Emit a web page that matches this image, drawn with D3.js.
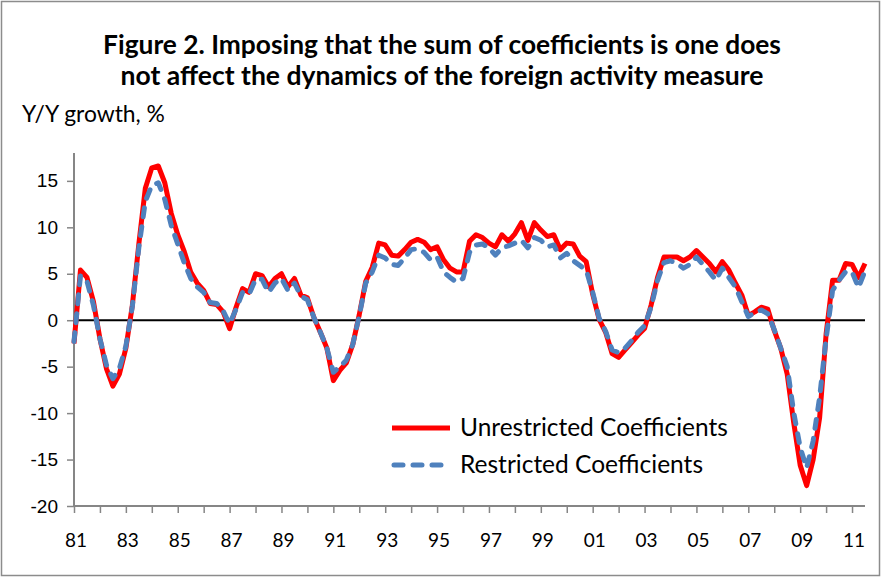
<!DOCTYPE html>
<html>
<head>
<meta charset="utf-8">
<script src="https://cdn.jsdelivr.net/npm/d3@7"></script>
<style>
  body { margin: 0; background: #fff; }
  svg { display: block; font-family: Lato, "Open Sans", sans-serif; }
</style>
</head>
<body>
<div id="chart"></div>
<script>
// quarterly data, 1981Q1 .. 2011Q3, Y/Y growth in %
var startYear = 1981;
var unrestricted = [
  -2.5, 5.4, 4.6, 2.0,   -2.0, -5.2, -7.1, -5.8,   -3.0, 1.6, 8.2, 14.2,
  16.4, 16.6, 14.8, 11.5,   9.2, 7.4, 5.2, 4.0,   3.2, 1.8, 1.7, 0.9,
  -0.9, 1.4, 3.4, 3.0,   5.0, 4.8, 3.6, 4.5,   5.0, 3.6, 4.5, 2.7,
  2.4, 0.3, -1.3, -3.0,   -6.5, -5.4, -4.6, -2.6,   0.6, 4.2, 5.7, 8.3,
  8.1, 7.0, 6.9, 7.6,   8.4, 8.7, 8.4, 7.6,   7.9, 6.5, 5.6, 5.2,
  5.2, 8.5, 9.2, 8.9,   8.3, 7.9, 9.2, 8.5,   9.3, 10.5, 8.6, 10.5,
  9.7, 9.0, 9.2, 7.6,   8.3, 8.2, 6.9, 6.3,   2.8, 0.1, -1.3, -3.6,
  -4.0, -3.2, -2.4, -1.6,   -0.9, 1.6, 4.6, 6.8,   6.8, 6.8, 6.4, 6.8,
  7.5, 6.8, 6.1, 5.2,   6.3, 5.4, 4.0, 2.7,   0.5, 0.9, 1.4, 1.2,
  -1.1, -3.0, -5.8, -11.0,   -15.6, -17.8, -15.0, -10.5,   -1.5, 4.3, 4.3, 6.1,
  6.0, 4.6, 6.1
];
var restricted = [
  -2.3, 4.8, 4.2, 1.6,   -2.0, -4.8, -6.3, -5.2,   -2.8, 1.5, 7.8, 12.8,
  14.5, 14.8, 13.0, 10.2,   8.2, 6.2, 4.5, 3.6,   3.0, 1.9, 1.8, 1.0,
  -0.4, 1.2, 3.0, 2.8,   4.4, 4.4, 3.0, 4.0,   4.5, 3.2, 4.0, 2.6,
  2.2, 0.3, -1.3, -3.0,   -5.6, -5.0, -4.3, -2.6,   0.5, 4.0, 5.2, 7.0,
  6.7, 6.0, 5.9, 6.7,   7.6, 7.7, 7.3, 6.5,   6.8, 5.2, 4.6, 4.1,
  4.5, 7.3, 8.1, 8.2,   7.8, 7.0, 7.8, 8.0,   8.3, 8.6, 7.8, 8.9,
  8.6, 7.9, 8.1, 6.7,   7.2, 6.4, 5.9, 5.4,   3.0, 0.2, -1.2, -3.2,
  -3.5, -3.0, -2.2, -1.3,   -0.6, 1.4, 4.3, 6.2,   6.4, 6.1, 5.6, 6.0,
  6.8, 6.0, 5.2, 4.3,   5.6, 4.6, 3.6, 2.0,   0.4, 0.8, 1.1, 0.7,
  -1.0, -3.0, -5.0, -9.9,   -13.7, -15.9, -13.0, -8.3,   -2.0, 3.2, 4.3, 5.2,
  5.2, 3.5, 5.3
];
var yTicks = [-20, -15, -10, -5, 0, 5, 10, 15];
var xLabelYears = d3.range(1981, 2012, 2);
var seriesNames = ["Unrestricted Coefficients", "Restricted Coefficients"];

var W = 881, H = 577;
var margin = {top: 153, right: 16, bottom: 71, left: 74};
var width = W - margin.left - margin.right,
    height = H - margin.top - margin.bottom;

var svg = d3.select("#chart").append("svg")
    .attr("width", W)
    .attr("height", H);

// chart border
svg.append("rect")
    .attr("x", 1.5).attr("y", 1.5)
    .attr("width", W - 3).attr("height", H - 3)
    .attr("fill", "#fff")
    .attr("stroke", "#8c8c8c")
    .attr("stroke-width", 1.5);

// fit a text element to a target width
function fit(sel, target) {
  var fs = parseFloat(sel.attr("font-size"));
  var w = sel.node().getComputedTextLength();
  sel.attr("font-size", (fs * target / w).toFixed(2));
}

// title
fit(svg.append("text")
    .attr("x", 442).attr("y", 54)
    .attr("text-anchor", "middle")
    .attr("font-size", 22).attr("font-weight", "bold")
    .attr("fill", "#000")
    .text("Figure 2. Imposing that the sum of coefficients is one does"), 678);
fit(svg.append("text")
    .attr("x", 442).attr("y", 85)
    .attr("text-anchor", "middle")
    .attr("font-size", 22).attr("font-weight", "bold")
    .attr("fill", "#000")
    .text("not affect the dynamics of the foreign activity measure"), 643);

fit(svg.append("text")
    .attr("x", 22).attr("y", 122)
    .attr("font-size", 19)
    .text("Y/Y growth, %"), 143);

var g = svg.append("g")
    .attr("transform", "translate(" + margin.left + "," + margin.top + ")");

var x = d3.scaleLinear().domain([1981, 2011.5]).range([0, width]);
var y = d3.scaleLinear().domain([-20, 18]).range([height, 0]);

var data = unrestricted.map(function(d, i) {
  return {t: startYear + i / 4, u: d, r: restricted[i]};
});

// axes
var yAxis = g.append("g")
    .attr("class", "y axis")
    .call(d3.axisLeft(y).tickValues(yTicks).tickSize(7).tickPadding(9).tickFormat(d3.format("d")));
yAxis.select(".domain").attr("stroke", "#868686").attr("stroke-width", 2)
    .attr("d", "M0," + height + "V0");
yAxis.selectAll(".tick line").attr("stroke", "#868686").attr("stroke-width", 1.5);
yAxis.selectAll(".tick text")
    .attr("font-size", 19).attr("fill", "#000")
    .text(function(d) { return d < 0 ? "-" + Math.abs(d) : d; });

var xAxis = g.append("g")
    .attr("class", "x axis")
    .attr("transform", "translate(0," + height + ")")
    .call(d3.axisBottom(x).tickValues(d3.range(1981, 2012)).tickSize(7).tickPadding(0).tickFormat(""));
xAxis.select(".domain").attr("stroke", "#868686").attr("stroke-width", 2)
    .attr("d", "M0,0H" + width);
xAxis.selectAll(".tick line").attr("stroke", "#868686").attr("stroke-width", 1.5);

g.append("g").selectAll("text")
    .data(xLabelYears)
    .enter().append("text")
    .attr("x", function(d) { return x(d) + 2; })
    .attr("y", height + 41)
    .attr("text-anchor", "middle")
    .attr("font-size", 19)
    .text(function(d) { return d3.format("02d")(d % 100); });

// zero line
g.append("line")
    .attr("x1", 0).attr("x2", width)
    .attr("y1", y(0)).attr("y2", y(0))
    .attr("stroke", "#000").attr("stroke-width", 2);

var lineU = d3.line()
    .x(function(d) { return x(d.t); })
    .y(function(d) { return y(d.u); });
var lineR = d3.line()
    .x(function(d) { return x(d.t); })
    .y(function(d) { return y(d.r); });

g.append("path")
    .datum(data)
    .attr("fill", "none")
    .attr("stroke", "#ff0000")
    .attr("stroke-width", 5)
    .attr("stroke-linejoin", "round")
    .attr("d", lineU);

g.append("path")
    .datum(data)
    .attr("fill", "none")
    .attr("stroke", "#4f81bd")
    .attr("stroke-width", 5)
    .attr("stroke-linecap", "round")
    .attr("stroke-linejoin", "round")
    .attr("stroke-dasharray", "9,10")
    .attr("d", lineR);

// legend
var legend = svg.append("g");
legend.append("line")
    .attr("x1", 392).attr("x2", 450).attr("y1", 428).attr("y2", 428)
    .attr("stroke", "#ff0000").attr("stroke-width", 5);
legend.append("line")
    .attr("x1", 394).attr("x2", 450).attr("y1", 465).attr("y2", 465)
    .attr("stroke", "#4f81bd").attr("stroke-width", 5)
    .attr("stroke-linecap", "round")
    .attr("stroke-dasharray", "9,10");
fit(legend.append("text")
    .attr("x", 460).attr("y", 436)
    .attr("font-size", 21)
    .text(seriesNames[0]), 268);
fit(legend.append("text")
    .attr("x", 460).attr("y", 473)
    .attr("font-size", 21)
    .text(seriesNames[1]), 243);
</script>
</body>
</html>
